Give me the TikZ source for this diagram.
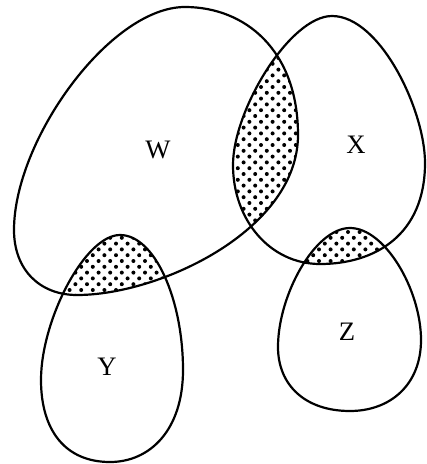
\documentclass[tikz,border=0pt]{standalone}
\usepackage{fontspec}
\setmainfont{Liberation Serif}
\begin{document}
\begin{tikzpicture}[x=0.75pt,y=-0.75pt,
  setline/.style={line width=1.65pt,line join=round},
  setlabel/.style={font=\fontsize{20}{24}\selectfont,inner sep=0pt}]
\useasboundingbox (0,0) rectangle (426,464);
\def\Wpath{(185,7) .. controls (245,7) and (298,50) .. (298,135)
  .. controls (298,230) and (160,295) .. (77,295)
  .. controls (40,295) and (14,270) .. (14,230)
  .. controls (14,140) and (110,7) .. (185,7) -- cycle}
\def\Xpath{(332,16) .. controls (380,16) and (425,110) .. (425,163)
  .. controls (425,235) and (375,264) .. (320,264)
  .. controls (270,264) and (233,220) .. (233,165)
  .. controls (233,110) and (290,16) .. (332,16) -- cycle}
\def\Ypath{(120,235) .. controls (155,235) and (183,300) .. (183,370)
  .. controls (183,430) and (150,462) .. (110,462)
  .. controls (65,462) and (41,430) .. (41,380)
  .. controls (41,320) and (85,235) .. (120,235) -- cycle}
\def\Zpath{(350,228) .. controls (385,228) and (421,290) .. (421,340)
  .. controls (421,385) and (390,411) .. (350,411)
  .. controls (305,411) and (278,385) .. (278,347)
  .. controls (278,295) and (315,228) .. (350,228) -- cycle}
\newcommand\dotgrid[4]{%
  \foreach \j in {#3,...,#4}{%
    \pgfmathtruncatemacro\off{mod(\j,2)}%
    \foreach \i in {#1,...,#2}{%
      \fill ({5.8*(2*\i+\off)},{5.8*\j}) circle[radius=1.5pt];}}}
% W and X
\begin{scope}
  \clip \Wpath; \clip \Xpath;
  \dotgrid{19}{26}{7}{41}
\end{scope}
% W and Y
\begin{scope}
  \clip \Wpath; \clip \Ypath;
  \dotgrid{4}{15}{39}{52}
\end{scope}
% X and Z
\begin{scope}
  \clip \Xpath; \clip \Zpath;
  \dotgrid{25}{34}{38}{47}
\end{scope}
\draw[setline] \Wpath;
\draw[setline] \Xpath;
\draw[setline] \Ypath;
\draw[setline] \Zpath;
\node[setlabel] (W) at (158,150) {W};
\node[setlabel] (X) at (356,145) {X};
\node[setlabel] (Y) at (107,367) {Y};
\node[setlabel] (Z) at (347,332) {Z};
\end{tikzpicture}
\end{document}
